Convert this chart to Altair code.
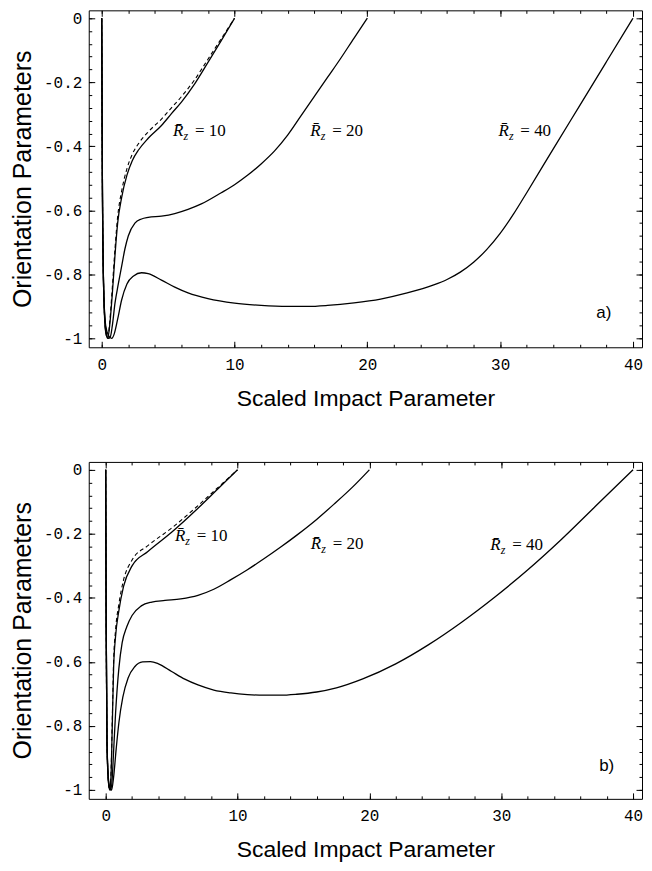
import altair as alt
import pandas as pd

# ---------------- data ----------------
X_MAJOR = [0, 10, 20, 30, 40]
X_MINOR = [0, 2, 4, 6, 8, 10, 12, 14, 16, 18, 20, 22, 24, 26, 28, 30, 32, 34, 36, 38, 40]
Y_MAJOR = [0, -0.2, -0.4, -0.6, -0.8, -1.0]
Y_MINOR = [0, -0.04, -0.08, -0.12, -0.16, -0.2, -0.24, -0.28, -0.32, -0.36, -0.4,
           -0.44, -0.48, -0.52, -0.56, -0.6, -0.64, -0.68, -0.72, -0.76, -0.8,
           -0.84, -0.88, -0.92, -0.96, -1.0]

SERIES = ["10", "20", "40"]
LABEL_EQ = ["= 10", "= 20", "= 40"]

# panel a)
A10_X = [0, 0.05, 0.15, 0.3, 0.45, 0.6, 0.8, 1.0, 1.2, 1.5, 1.9, 2.3, 2.8, 3.5, 4.5, 5.25, 6, 7, 8, 9, 10]
A10_Y = [0, -0.5, -0.85, -0.98, -1.0, -0.96, -0.86, -0.74, -0.64, -0.56, -0.49, -0.445, -0.41,
         -0.375, -0.335, -0.298, -0.262, -0.205, -0.138, -0.07, 0]
A10D_Y = [0, -0.5, -0.85, -0.98, -1.0, -0.95, -0.84, -0.72, -0.62, -0.54, -0.47, -0.425, -0.39,
          -0.355, -0.315, -0.28, -0.245, -0.192, -0.128, -0.064, 0]
A20_X = [0, 0.05, 0.15, 0.3, 0.5, 0.65, 0.8, 1.0, 1.25, 1.5, 1.75, 2.0, 2.5, 3.0, 3.5, 4.5, 5.5, 6.5,
         7.5, 9, 10, 11, 12, 13, 14, 15, 16, 17, 18, 19, 20]
A20_Y = [0, -0.5, -0.85, -0.97, -1.0, -0.995, -0.96, -0.89, -0.83, -0.775, -0.72, -0.68, -0.64, -0.627,
         -0.622, -0.618, -0.61, -0.597, -0.58, -0.545, -0.52, -0.49, -0.455, -0.415, -0.365, -0.305,
         -0.245, -0.185, -0.125, -0.062, 0]
A40_X = [0, 0.05, 0.15, 0.3, 0.5, 0.75, 0.95, 1.2, 1.5, 1.9, 2.4, 3.0, 3.5, 4.5, 5.5, 6.5, 8, 10, 12,
         14, 15.5, 17, 19, 21, 23, 25, 26, 27, 28, 29, 30, 31, 32, 34, 36, 38, 40]
A40_Y = [0, -0.5, -0.85, -0.96, -0.99, -1.0, -0.985, -0.94, -0.88, -0.83, -0.805, -0.795, -0.798,
         -0.818, -0.84, -0.858, -0.876, -0.89, -0.897, -0.9, -0.9, -0.897, -0.889, -0.877, -0.858,
         -0.833, -0.816, -0.793, -0.762, -0.722, -0.672, -0.612, -0.545, -0.408, -0.272, -0.136, 0]
A_LAB_X = [5.37, 15.7, 29.87]
A_LAB_Y = [-0.369, -0.368, -0.368]

# panel b)
B10_X = [0, 0.04, 0.1, 0.2, 0.3, 0.4, 0.5, 0.6, 0.75, 1.0, 1.35, 2.0, 3.2, 5.0, 7.0, 8.5, 10]
B10_Y = [0, -0.5, -0.85, -0.97, -1.0, -0.96, -0.8, -0.62, -0.52, -0.44, -0.365, -0.30, -0.255,
         -0.195, -0.12, -0.06, 0]
B10D_Y = [0, -0.5, -0.85, -0.97, -1.0, -0.95, -0.78, -0.60, -0.50, -0.42, -0.345, -0.282, -0.237,
          -0.182, -0.112, -0.056, 0]
B20_X = [0, 0.04, 0.1, 0.2, 0.3, 0.4, 0.5, 0.6, 0.75, 1.0, 1.25, 1.6, 2.0, 2.7, 3.5, 4.5, 5.7, 7,
         8.2, 9.5, 10.75, 12, 13.25, 14.5, 16, 17.3, 18.7, 20]
B20_Y = [0, -0.5, -0.85, -0.97, -0.995, -1.0, -0.96, -0.88, -0.76, -0.62, -0.54, -0.49, -0.455,
         -0.425, -0.413, -0.408, -0.403, -0.392, -0.373, -0.343, -0.312, -0.278, -0.242, -0.204,
         -0.155, -0.108, -0.055, 0]
B40_X = [0, 0.04, 0.1, 0.2, 0.3, 0.45, 0.6, 0.8, 1.0, 1.3, 1.7, 2.2, 2.8, 3.4, 4.0, 5.0, 6.0, 7.0,
         8.2, 9.5, 10.75, 12, 13.25, 14.5, 16, 17.5, 19.5, 22, 24.5, 27, 29.5, 32, 34.5, 37, 40]
B40_Y = [0, -0.5, -0.85, -0.96, -0.99, -1.0, -0.96, -0.87, -0.79, -0.71, -0.65, -0.615, -0.6,
         -0.599, -0.606, -0.63, -0.654, -0.672, -0.688, -0.697, -0.702, -0.704, -0.704, -0.701,
         -0.694, -0.681, -0.653, -0.606, -0.546, -0.476, -0.398, -0.313, -0.22, -0.12, 0]
B_LAB_X = [5.25, 15.56, 29.17]
B_LAB_Y = [-0.222, -0.248, -0.252]

TAGS = ["a)", "b)"]
TAG_X = [37.8, 38.0]
TAG_Y = [-0.92, -0.925]

# ---------------- helpers ----------------
LABEL_EXPR = ("datum.value >= 0 ? '0' : (datum.value <= -1 ? '-1' : "
              "'-' + format(-datum.value, '.1f'))")


def ax(orient, values, size, labels=False, title=None, **kw):
    # negative offset + tickSize puts the ticks inside the frame (Mathematica style)
    return alt.Axis(orient=orient, values=values, offset=-size, tickSize=size,
                    tickColor="black", tickWidth=1, domain=False, grid=False,
                    labels=labels, title=title, minExtent=0, **kw)


def panel(curves, dash_x, dash_y, lab_x, lab_y, tag_i, xdom, ydom, h, w):
    rows = []
    for name, xs_, ys_ in curves:
        for i, (a, b) in enumerate(zip(xs_, ys_)):
            rows.append({"s": name, "i": i, "x": a, "y": b})
    solid = pd.DataFrame(rows)
    dashed = pd.DataFrame({"i": list(range(len(dash_x))), "x": dash_x, "y": dash_y})
    labs = pd.DataFrame({"x": lab_x, "y": lab_y, "eq": LABEL_EQ})
    tag = pd.DataFrame({"x": [TAG_X[tag_i]], "y": [TAG_Y[tag_i]], "t": [TAGS[tag_i]]})

    xs = alt.Scale(domain=xdom, nice=False, zero=False)
    ys = alt.Scale(domain=ydom, nice=False, zero=False)

    x_major = ax("bottom", X_MAJOR, 6, labels=True, title="Scaled Impact Parameter",
                 labelFont="Liberation Mono", labelFontSize=16, labelColor="black",
                 labelPadding=9, labelFlush=False, titleFont="Liberation Sans",
                 titleFontSize=23, titleFontWeight="normal", titleColor="black",
                 titlePadding=15)
    y_major = ax("left", Y_MAJOR, 6, labels=True, title="Orientation Parameters",
                 labelFont="Liberation Mono", labelFontSize=16, labelColor="black",
                 labelPadding=7, labelExpr=LABEL_EXPR, labelFlush=False,
                 titleFont="Liberation Sans", titleFontSize=25,
                 titleFontWeight="normal", titleColor="black", titlePadding=8)

    lines = alt.Chart(solid).mark_line(color="black", strokeWidth=1.3,
                                       interpolate="monotone").encode(
        x=alt.X("x:Q", scale=xs, axis=x_major),
        y=alt.Y("y:Q", scale=ys, axis=y_major),
        detail="s:N", order="i:Q")
    dash = alt.Chart(dashed).mark_line(color="black", strokeWidth=1.1,
                                       strokeDash=[4, 3],
                                       interpolate="monotone").encode(
        x=alt.X("x:Q", scale=xs, axis=ax("bottom", X_MINOR, 3)),
        y=alt.Y("y:Q", scale=ys, axis=ax("left", Y_MINOR, 3)),
        order="i:Q")
    r_txt = alt.Chart(labs).mark_text(text="R\u0304", font="Liberation Serif",
                                      fontStyle="italic", fontSize=17, align="left",
                                      baseline="alphabetic", color="black").encode(
        x=alt.X("x:Q", scale=xs, axis=ax("top", X_MAJOR, 6)),
        y=alt.Y("y:Q", scale=ys, axis=ax("right", Y_MAJOR, 6)))
    z_txt = alt.Chart(labs).mark_text(text="z", font="Liberation Serif",
                                      fontStyle="italic", fontSize=12, align="left",
                                      baseline="alphabetic", dx=10.5, dy=4,
                                      color="black").encode(
        x=alt.X("x:Q", scale=xs, axis=ax("top", X_MINOR, 3)),
        y=alt.Y("y:Q", scale=ys, axis=ax("right", Y_MINOR, 3)))
    eq_txt = alt.Chart(labs).mark_text(font="Liberation Serif", fontSize=17,
                                       align="left", baseline="alphabetic", dx=22,
                                       color="black").encode(
        x=alt.X("x:Q", scale=xs, axis=None),
        y=alt.Y("y:Q", scale=ys, axis=None),
        text="eq:N")
    tag_txt = alt.Chart(tag).mark_text(font="Liberation Sans", fontSize=17,
                                       align="center", baseline="middle",
                                       color="black").encode(
        x=alt.X("x:Q", scale=xs, axis=None),
        y=alt.Y("y:Q", scale=ys, axis=None),
        text="t:N")

    return alt.layer(lines, dash, r_txt, z_txt, eq_txt, tag_txt).resolve_axis(
        x="independent", y="independent").properties(width=w, height=h)


YDOM = [-1.0277, 0.0246]
pa = panel([("10", A10_X, A10_Y), ("20", A20_X, A20_Y), ("40", A40_X, A40_Y)],
           A10_X, A10D_Y, A_LAB_X, A_LAB_Y, 0,
           [-0.976, 40.68], YDOM, 338, 555)
pb = panel([("10", B10_X, B10_Y), ("20", B20_X, B20_Y), ("40", B40_X, B40_Y)],
           B10_X, B10D_Y, B_LAB_X, B_LAB_Y, 1,
           [-1.285, 40.68], YDOM, 338, 555)

chart = alt.vconcat(pa, pb, spacing=50).properties(
    padding={"left": 2, "top": 0, "right": 0, "bottom": 0},
    background="white",
).configure_view(stroke="black", strokeWidth=1)

chart.save("out.html", embed_options={"renderer": "svg", "actions": False})
